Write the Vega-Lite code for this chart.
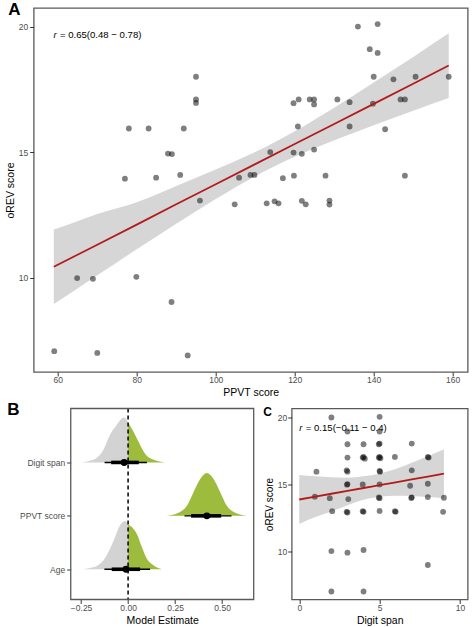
{
  "$schema": "https://vega.github.io/schema/vega-lite/v6.json",
  "background": "white",
  "padding": {"left": 3.7, "top": 0, "right": 5, "bottom": 0},
  "config": {
    "font": "Liberation Sans",
    "view": {"stroke": "#5a5a5a", "strokeWidth": 1.3},
    "axis": {"grid": false, "domain": false, "tickColor": "#333333", "tickSize": 4, "tickWidth": 1, "labelColor": "#4d4d4d", "labelFontSize": 8.5, "labelFont": "Liberation Sans", "titleFont": "Liberation Sans", "titleFontSize": 10.5, "titleFontWeight": "normal", "titleColor": "black"},
    "axisX": {"titlePadding": 3, "labelPadding": 0},
    "axisY": {"titlePadding": 3, "labelPadding": 2},
    "title": {"font": "Liberation Sans", "fontWeight": "bold", "anchor": "start", "frame": "bounds", "baseline": "alphabetic", "color": "black"}
  },
  "datasets": {
    "ptsA": [
      {"x": 136, "y": 20}, {"x": 141, "y": 20.1}, {"x": 139, "y": 19.1}, {"x": 141, "y": 18.95}, {"x": 95, "y": 18}, {"x": 140, "y": 18}, {"x": 145, "y": 17.9}, {"x": 150.6, "y": 18}, {"x": 159, "y": 18},
      {"x": 95, "y": 17.1}, {"x": 95, "y": 16.96}, {"x": 119.7, "y": 16.95}, {"x": 121, "y": 17.1}, {"x": 123.8, "y": 17.1}, {"x": 124.9, "y": 17.1}, {"x": 124.9, "y": 16.9}, {"x": 130.8, "y": 17.1}, {"x": 133.9, "y": 16.99}, {"x": 139.8, "y": 16.93}, {"x": 146.8, "y": 17.1}, {"x": 147.9, "y": 17.1},
      {"x": 78, "y": 15.94}, {"x": 83, "y": 15.94}, {"x": 91.9, "y": 15.94}, {"x": 120.8, "y": 16.02}, {"x": 133.9, "y": 16.02}, {"x": 142.9, "y": 15.91},
      {"x": 87.9, "y": 14.94}, {"x": 88.9, "y": 14.92}, {"x": 113.8, "y": 15.0}, {"x": 119.7, "y": 14.98}, {"x": 121.8, "y": 14.93}, {"x": 124.9, "y": 15.1},
      {"x": 77, "y": 13.94}, {"x": 84.9, "y": 13.98}, {"x": 91, "y": 14.09}, {"x": 105.9, "y": 13.98}, {"x": 108.8, "y": 14.09}, {"x": 109.8, "y": 14.09}, {"x": 117, "y": 13.96}, {"x": 119.8, "y": 14.06}, {"x": 127.8, "y": 14.06}, {"x": 147.9, "y": 14.06},
      {"x": 96, "y": 13.07}, {"x": 104.8, "y": 12.92}, {"x": 112.9, "y": 12.96}, {"x": 114.9, "y": 13.04}, {"x": 115.9, "y": 12.96}, {"x": 121.8, "y": 13.06}, {"x": 122.8, "y": 12.92}, {"x": 128.8, "y": 13.07}, {"x": 128.8, "y": 12.91},
      {"x": 64.9, "y": 9.98}, {"x": 68.9, "y": 9.95}, {"x": 79.9, "y": 10.03}, {"x": 88.8, "y": 9.03}, {"x": 59.1, "y": 7.07}, {"x": 70, "y": 7.0}, {"x": 92.9, "y": 6.9}
    ],
    "bandA": [
      {"x": 59, "lo": 8.95, "hi": 11.92, "fit": 10.43},
      {"x": 65, "lo": 9.57, "hi": 12.25, "fit": 10.91},
      {"x": 70, "lo": 10.09, "hi": 12.53, "fit": 11.31},
      {"x": 80, "lo": 11.13, "hi": 13.0, "fit": 12.11},
      {"x": 90, "lo": 12.15, "hi": 13.65, "fit": 12.92},
      {"x": 100, "lo": 13.13, "hi": 14.31, "fit": 13.72},
      {"x": 110, "lo": 14.04, "hi": 15.0, "fit": 14.52},
      {"x": 120, "lo": 14.81, "hi": 15.83, "fit": 15.32},
      {"x": 130, "lo": 15.47, "hi": 16.77, "fit": 16.12},
      {"x": 140, "lo": 16.07, "hi": 17.77, "fit": 16.92},
      {"x": 150, "lo": 16.65, "hi": 18.79, "fit": 17.72},
      {"x": 159, "lo": 17.16, "hi": 19.73, "fit": 18.45}
    ],
    "dens": [
      {"v": "Digit span", "side": "neg", "lvl": 3, "x": -0.246, "top": 3.0},
      {"v": "Digit span", "side": "neg", "lvl": 3, "x": -0.202, "top": 3.031},
      {"v": "Digit span", "side": "neg", "lvl": 3, "x": -0.167, "top": 3.081},
      {"v": "Digit span", "side": "neg", "lvl": 3, "x": -0.131, "top": 3.237},
      {"v": "Digit span", "side": "neg", "lvl": 3, "x": -0.096, "top": 3.517},
      {"v": "Digit span", "side": "neg", "lvl": 3, "x": -0.06, "top": 3.704},
      {"v": "Digit span", "side": "neg", "lvl": 3, "x": -0.034, "top": 3.822},
      {"v": "Digit span", "side": "neg", "lvl": 3, "x": -0.021, "top": 3.841},
      {"v": "Digit span", "side": "neg", "lvl": 3, "x": 0, "top": 3.748},
      {"v": "Digit span", "side": "pos", "lvl": 3, "x": 0, "top": 3.748},
      {"v": "Digit span", "side": "pos", "lvl": 3, "x": 0.028, "top": 3.579},
      {"v": "Digit span", "side": "pos", "lvl": 3, "x": 0.046, "top": 3.455},
      {"v": "Digit span", "side": "pos", "lvl": 3, "x": 0.073, "top": 3.268},
      {"v": "Digit span", "side": "pos", "lvl": 3, "x": 0.099, "top": 3.125},
      {"v": "Digit span", "side": "pos", "lvl": 3, "x": 0.135, "top": 3.05},
      {"v": "Digit span", "side": "pos", "lvl": 3, "x": 0.197, "top": 3.0},
      {"v": "PPVT score", "side": "pos", "lvl": 2, "x": 0.206, "top": 2.0},
      {"v": "PPVT score", "side": "pos", "lvl": 2, "x": 0.243, "top": 2.024},
      {"v": "PPVT score", "side": "pos", "lvl": 2, "x": 0.281, "top": 2.08},
      {"v": "PPVT score", "side": "pos", "lvl": 2, "x": 0.313, "top": 2.19},
      {"v": "PPVT score", "side": "pos", "lvl": 2, "x": 0.345, "top": 2.42},
      {"v": "PPVT score", "side": "pos", "lvl": 2, "x": 0.382, "top": 2.68},
      {"v": "PPVT score", "side": "pos", "lvl": 2, "x": 0.419, "top": 2.8},
      {"v": "PPVT score", "side": "pos", "lvl": 2, "x": 0.456, "top": 2.68},
      {"v": "PPVT score", "side": "pos", "lvl": 2, "x": 0.493, "top": 2.42},
      {"v": "PPVT score", "side": "pos", "lvl": 2, "x": 0.525, "top": 2.19},
      {"v": "PPVT score", "side": "pos", "lvl": 2, "x": 0.557, "top": 2.08},
      {"v": "PPVT score", "side": "pos", "lvl": 2, "x": 0.595, "top": 2.024},
      {"v": "PPVT score", "side": "pos", "lvl": 2, "x": 0.632, "top": 2.0},
      {"v": "Age", "side": "neg", "lvl": 1, "x": -0.246, "top": 1.0},
      {"v": "Age", "side": "neg", "lvl": 1, "x": -0.202, "top": 1.025},
      {"v": "Age", "side": "neg", "lvl": 1, "x": -0.167, "top": 1.062},
      {"v": "Age", "side": "neg", "lvl": 1, "x": -0.131, "top": 1.168},
      {"v": "Age", "side": "neg", "lvl": 1, "x": -0.096, "top": 1.386},
      {"v": "Age", "side": "neg", "lvl": 1, "x": -0.069, "top": 1.604},
      {"v": "Age", "side": "neg", "lvl": 1, "x": -0.043, "top": 1.822},
      {"v": "Age", "side": "neg", "lvl": 1, "x": -0.016, "top": 1.903},
      {"v": "Age", "side": "neg", "lvl": 1, "x": 0, "top": 1.84},
      {"v": "Age", "side": "pos", "lvl": 1, "x": 0, "top": 1.84},
      {"v": "Age", "side": "pos", "lvl": 1, "x": 0.028, "top": 1.76},
      {"v": "Age", "side": "pos", "lvl": 1, "x": 0.046, "top": 1.667},
      {"v": "Age", "side": "pos", "lvl": 1, "x": 0.073, "top": 1.417},
      {"v": "Age", "side": "pos", "lvl": 1, "x": 0.099, "top": 1.2},
      {"v": "Age", "side": "pos", "lvl": 1, "x": 0.135, "top": 1.075},
      {"v": "Age", "side": "pos", "lvl": 1, "x": 0.179, "top": 1.0}
    ],
    "intervals": [
      {"v": "Digit span", "lvl": 3, "lo95": -0.125, "hi95": 0.1, "lo66": -0.09, "hi66": 0.057, "est": -0.021},
      {"v": "PPVT score", "lvl": 2, "lo95": 0.3, "hi95": 0.55, "lo66": 0.335, "hi66": 0.495, "est": 0.419},
      {"v": "Age", "lvl": 1, "lo95": -0.126, "hi95": 0.117, "lo66": -0.087, "hi66": 0.064, "est": -0.011}
    ],
    "ptsC": [
      {"x": 2, "y": 20}, {"x": 5, "y": 20.05}, {"x": 3, "y": 18.95}, {"x": 5, "y": 18.95},
      {"x": 3, "y": 18}, {"x": 4, "y": 18}, {"x": 5, "y": 18.05}, {"x": 4.95, "y": 18}, {"x": 7, "y": 18.05},
      {"x": 3, "y": 17}, {"x": 4, "y": 17.05}, {"x": 4.08, "y": 16.92}, {"x": 3.95, "y": 17}, {"x": 5, "y": 17.05}, {"x": 5.05, "y": 16.95}, {"x": 4.95, "y": 17}, {"x": 5.95, "y": 17.05}, {"x": 8, "y": 17.05}, {"x": 8.05, "y": 17},
      {"x": 1.07, "y": 15.95}, {"x": 2.95, "y": 16.05}, {"x": 3, "y": 15.95}, {"x": 5, "y": 16}, {"x": 5.03, "y": 15.95}, {"x": 7, "y": 16.05},
      {"x": 3, "y": 15.02}, {"x": 2.97, "y": 14.98}, {"x": 3.95, "y": 15}, {"x": 5, "y": 15}, {"x": 6.9, "y": 14.9}, {"x": 8, "y": 15.05},
      {"x": 0.97, "y": 14.08}, {"x": 1.9, "y": 13.97}, {"x": 3.05, "y": 13.9}, {"x": 4.95, "y": 14.02}, {"x": 5, "y": 13.97}, {"x": 7, "y": 14.03}, {"x": 6.97, "y": 13.98}, {"x": 8, "y": 14.05}, {"x": 9, "y": 14},
      {"x": 2.05, "y": 13}, {"x": 2.95, "y": 12.95}, {"x": 3, "y": 12.9}, {"x": 3.95, "y": 13}, {"x": 4, "y": 12.95}, {"x": 5, "y": 13.02}, {"x": 5.95, "y": 13}, {"x": 6, "y": 12.95}, {"x": 8.95, "y": 12.95},
      {"x": 2, "y": 10.02}, {"x": 3, "y": 9.9}, {"x": 4, "y": 10.1}, {"x": 8, "y": 8.98}, {"x": 2, "y": 7.0}, {"x": 4, "y": 7.0}
    ],
    "bandC": [
      {"x": 0, "lo": 12.04, "hi": 15.7, "fit": 13.87},
      {"x": 1, "lo": 12.56, "hi": 15.6, "fit": 14.08},
      {"x": 2, "lo": 12.98, "hi": 15.54, "fit": 14.3},
      {"x": 3, "lo": 13.45, "hi": 15.5, "fit": 14.51},
      {"x": 4, "lo": 13.86, "hi": 15.6, "fit": 14.73},
      {"x": 4.5, "lo": 13.98, "hi": 15.68, "fit": 14.83},
      {"x": 5, "lo": 14.07, "hi": 15.81, "fit": 14.94},
      {"x": 6, "lo": 14.15, "hi": 16.15, "fit": 15.15},
      {"x": 7, "lo": 14.13, "hi": 16.61, "fit": 15.37},
      {"x": 8, "lo": 14.06, "hi": 17.1, "fit": 15.58},
      {"x": 9, "lo": 13.97, "hi": 17.63, "fit": 15.8}
    ]
  },
  "spacing": 1.5,
  "vconcat": [
    {
      "width": 434,
      "height": 364,
      "title": {"text": "A", "fontSize": 17, "offset": -10.7, "dx": 3},
      "layer": [
        {
          "data": {"name": "bandA"},
          "mark": {"type": "area", "color": "#999999", "opacity": 0.4, "interpolate": "monotone"},
          "encoding": {
            "x": {"field": "x", "type": "quantitative", "scale": {"domain": [53.9, 163.8], "nice": false, "zero": false}, "axis": {"values": [60, 80, 100, 120, 140, 160], "title": "PPVT score"}},
            "y": {"field": "lo", "type": "quantitative", "scale": {"domain": [6.24, 20.74], "nice": false, "zero": false}, "axis": {"values": [10, 15, 20], "title": "oREV score"}},
            "y2": {"field": "hi"}
          }
        },
        {
          "data": {"name": "ptsA"},
          "mark": {"type": "circle", "size": 34, "color": "black", "opacity": 0.5},
          "encoding": {
            "x": {"field": "x", "type": "quantitative"},
            "y": {"field": "y", "type": "quantitative"}
          }
        },
        {
          "data": {"name": "bandA"},
          "mark": {"type": "line", "color": "#b31b1b", "strokeWidth": 1.8},
          "encoding": {
            "x": {"field": "x", "type": "quantitative"},
            "y": {"field": "fit", "type": "quantitative"}
          }
        },
        {
          "data": {"values": [{"t": "r"}]},
          "mark": {"type": "text", "fontStyle": "italic", "fontSize": 9.6, "align": "left", "baseline": "middle", "color": "black"},
          "encoding": {"x": {"datum": 58.9}, "y": {"datum": 19.65}, "text": {"field": "t"}}
        },
        {
          "data": {"values": [{"t": "= 0.65(0.48 − 0.78)"}]},
          "mark": {"type": "text", "fontSize": 9.6, "align": "left", "baseline": "middle", "color": "black", "dx": 6.5},
          "encoding": {"x": {"datum": 58.9}, "y": {"datum": 19.65}, "text": {"field": "t"}}
        }
      ]
    },
    {
      "spacing": 7,
      "hconcat": [
        {
          "width": 220,
          "height": 191,
          "view": {"stroke": null},
          "title": {"text": "B", "fontSize": 17, "offset": -11.3, "dx": -12},
          "layer": [
            {
              "data": {"name": "dens"},
              "mark": {"type": "area", "interpolate": "monotone", "opacity": 1},
              "encoding": {
                "x": {"field": "x", "type": "quantitative", "scale": {"domain": [-0.502, 0.668], "nice": false, "zero": false}, "axis": {"values": [-0.25, 0, 0.25, 0.5], "format": ".2f", "title": "Model Estimate", "titleX": 128.5, "titlePadding": 4}},
                "y": {"field": "lvl", "type": "quantitative", "scale": {"domain": [0.434, 4.01], "nice": false, "zero": false}, "axis": {"values": [1, 2, 3], "title": null, "offset": -37, "labelExpr": "datum.value == 1 ? 'Age' : datum.value == 2 ? 'PPVT score' : 'Digit span'"}},
                "y2": {"field": "top"},
                "color": {"field": "side", "type": "nominal", "scale": {"domain": ["neg", "pos"], "range": ["#d3d3d3", "#9dbb3c"]}, "legend": null},
                "detail": {"field": "v"}
              }
            },
            {
              "data": {"name": "intervals"},
              "mark": {"type": "rule", "color": "black", "strokeWidth": 1.4},
              "encoding": {
                "x": {"field": "lo95", "type": "quantitative"},
                "x2": {"field": "hi95"},
                "y": {"field": "lvl", "type": "quantitative"}
              }
            },
            {
              "data": {"name": "intervals"},
              "mark": {"type": "rule", "color": "black", "strokeWidth": 3.6},
              "encoding": {
                "x": {"field": "lo66", "type": "quantitative"},
                "x2": {"field": "hi66"},
                "y": {"field": "lvl", "type": "quantitative"}
              }
            },
            {
              "data": {"name": "intervals"},
              "mark": {"type": "circle", "color": "black", "opacity": 1, "size": 48},
              "encoding": {
                "x": {"field": "est", "type": "quantitative"},
                "y": {"field": "lvl", "type": "quantitative"}
              }
            },
            {
              "data": {"values": [{"z": 0}]},
              "mark": {"type": "rule", "color": "black", "strokeWidth": 1.5, "strokeDash": [4, 3]},
              "encoding": {"x": {"field": "z", "type": "quantitative"}}
            },
            {
              "data": {"values": [{"f": 1}]},
              "mark": {"type": "rect", "filled": false, "stroke": "#5a5a5a", "strokeWidth": 1.3, "opacity": 1},
              "encoding": {"x": {"datum": -0.305}, "x2": {"datum": 0.668}, "y": {"datum": 0.434}, "y2": {"datum": 4.01}}
            }
          ]
        },
        {
          "width": 176,
          "height": 191,
          "title": {"text": "C", "fontSize": 12, "offset": -10.3, "dx": -1},
          "layer": [
            {
              "data": {"name": "bandC"},
              "mark": {"type": "area", "color": "#999999", "opacity": 0.4, "interpolate": "monotone"},
              "encoding": {
                "x": {"field": "x", "type": "quantitative", "scale": {"domain": [-0.47, 10.48], "nice": false, "zero": false}, "axis": {"values": [0, 5, 10], "title": "Digit span", "titlePadding": 4}},
                "y": {"field": "lo", "type": "quantitative", "scale": {"domain": [6.4, 20.67], "nice": false, "zero": false}, "axis": {"values": [10, 15, 20], "title": "oREV score", "titleFontSize": 10, "labelPadding": 1}},
                "y2": {"field": "hi"}
              }
            },
            {
              "data": {"name": "ptsC"},
              "mark": {"type": "circle", "size": 34, "color": "black", "opacity": 0.5},
              "encoding": {
                "x": {"field": "x", "type": "quantitative"},
                "y": {"field": "y", "type": "quantitative"}
              }
            },
            {
              "data": {"name": "bandC"},
              "mark": {"type": "line", "color": "#b31b1b", "strokeWidth": 1.8},
              "encoding": {
                "x": {"field": "x", "type": "quantitative"},
                "y": {"field": "fit", "type": "quantitative"}
              }
            },
            {
              "data": {"values": [{"t": "r"}]},
              "mark": {"type": "text", "fontStyle": "italic", "fontSize": 9.6, "align": "left", "baseline": "middle", "color": "black"},
              "encoding": {"x": {"datum": 0}, "y": {"datum": 19.24}, "text": {"field": "t"}}
            },
            {
              "data": {"values": [{"t": "= 0.15(−0.11 − 0.4)"}]},
              "mark": {"type": "text", "fontSize": 9.6, "align": "left", "baseline": "middle", "color": "black", "dx": 6.5},
              "encoding": {"x": {"datum": 0}, "y": {"datum": 19.24}, "text": {"field": "t"}}
            }
          ]
        }
      ]
    }
  ]
}
